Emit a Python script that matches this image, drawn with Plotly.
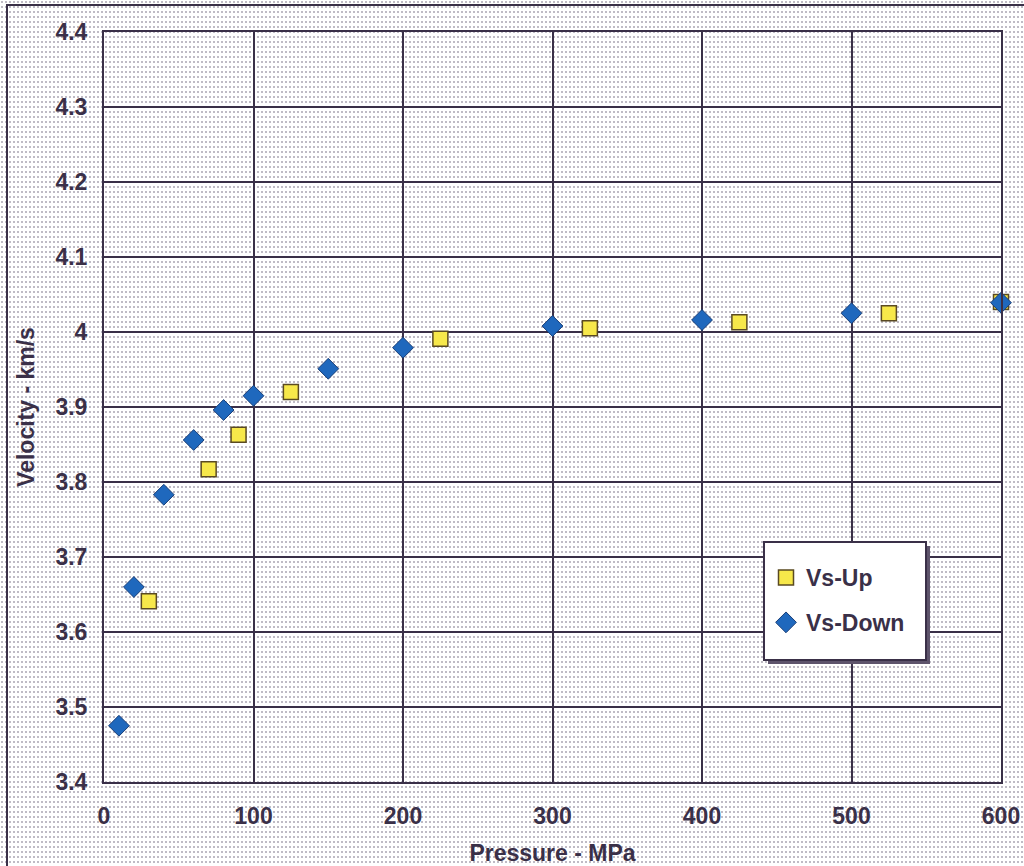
import base64
import plotly.graph_objects as go

# Data
up_pressure = [30, 70, 90, 125, 225, 325, 425, 525, 600]
up_velocity = [3.641, 3.817, 3.863, 3.920, 3.991, 4.005, 4.013, 4.025, 4.040]
down_pressure = [10, 20, 40, 60, 80, 100, 150, 200, 300, 400, 500, 600]
down_velocity = [3.475, 3.660, 3.783, 3.856, 3.896, 3.915, 3.951, 3.979, 4.008, 4.016, 4.025, 4.039]
x_ticks = [0, 100, 200, 300, 400, 500, 600]
y_ticks = [3.4, 3.5, 3.6, 3.7, 3.8, 3.9, 4.0, 4.1, 4.2, 4.3, 4.4]
y_tick_labels = ["3.4", "3.5", "3.6", "3.7", "3.8", "3.9", "4", "4.1", "4.2", "4.3", "4.4"]

ink = "#3a3048"
fnt = "Liberation Sans, Arial, sans-serif"

# layout geometry (pixels)
FW, FH = 1024, 866
ML, MR, MT, MB = 104, 23, 32, 84
PW, PH = FW - ML - MR, FH - MT - MB


def px(xp):
    return (xp - ML) / PW


def py(yp):
    return (FH - MB - yp) / PH


# dotted background pattern
svg = (
    '<svg xmlns="http://www.w3.org/2000/svg" width="1024" height="866">'
    '<defs><pattern id="p" width="4" height="5" patternUnits="userSpaceOnUse">'
    '<rect x="1" y="1" width="2" height="2" fill="#bfbbc5"/></pattern></defs>'
    '<rect width="1024" height="866" fill="#ffffff"/>'
    '<rect width="1024" height="866" fill="url(#p)"/></svg>'
)
bg_src = "data:image/svg+xml;base64," + base64.b64encode(svg.encode()).decode()

fig = go.Figure()
fig.add_trace(go.Scatter(
    x=up_pressure, y=up_velocity, mode="markers", name="Vs-Up", legendgroup="up",
    marker=dict(symbol="square", size=15, color="#f7e84a",
                line=dict(color="#5a4a22", width=1.5)),
    cliponaxis=False,
))
fig.add_trace(go.Scatter(
    x=down_pressure, y=down_velocity, mode="markers", name="Vs-Down", legendgroup="down",
    marker=dict(symbol="diamond", size=16, color="#1f68bd",
                line=dict(color="#1a3f78", width=1)),
    cliponaxis=False,
))

fig.add_layout_image(dict(
    source=bg_src, xref="paper", yref="paper",
    x=px(0), y=py(0), sizex=FW / PW, sizey=FH / PH,
    xanchor="left", yanchor="top", sizing="stretch", layer="below",
))

# legend shadow and box
fig.add_shape(type="rect", xref="paper", yref="paper",
              x0=px(768), x1=px(930), y0=py(664), y1=py(546),
              fillcolor="#5e546c", line=dict(width=0), layer="above")
fig.add_shape(type="rect", xref="paper", yref="paper",
              x0=px(764), x1=px(926), y0=py(660), y1=py(542),
              fillcolor="#ffffff", line=dict(color=ink, width=2), layer="above")
# outer frame
fig.add_shape(type="rect", xref="paper", yref="paper",
              x0=px(7), x1=px(1060), y0=py(900), y1=py(5),
              line=dict(color=ink, width=2), layer="below")

fig.update_layout(
    template="none",
    width=FW, height=FH,
    margin=dict(l=ML, r=MR, t=MT, b=MB, autoexpand=False),
    paper_bgcolor="#ffffff",
    plot_bgcolor="#ffffff",
    font=dict(family=fnt, color=ink),
    showlegend=True,
    legend=dict(
        x=px(766), y=py(556), xanchor="left", yanchor="top",
        bgcolor="rgba(0,0,0,0)", borderwidth=0,
        font=dict(size=23, family=fnt, color=ink, weight="bold"),
        itemsizing="trace", traceorder="grouped", tracegroupgap=12,
    ),
    xaxis=dict(
        range=[0, 600], tickvals=x_ticks, ticks="", automargin=False,
        showgrid=True, gridcolor=ink, gridwidth=2,
        showline=True, linecolor=ink, linewidth=2, mirror=True,
        zeroline=False, ticklabelstandoff=12,
        tickfont=dict(size=23, family=fnt, color=ink, weight="bold"),
        title=dict(text="Pressure - MPa", font=dict(size=23, family=fnt, color=ink, weight="bold"), standoff=18),
    ),
    yaxis=dict(
        range=[3.4, 4.4], tickvals=y_ticks, ticktext=y_tick_labels, ticks="", automargin=False,
        showgrid=True, gridcolor=ink, gridwidth=2,
        showline=True, linecolor=ink, linewidth=2, mirror=True,
        zeroline=False, ticklabelstandoff=10,
        tickfont=dict(size=23, family=fnt, color=ink, weight="bold"),
        title=dict(text="Velocity - km/s", font=dict(size=23, family=fnt, color=ink, weight="bold"), standoff=14),
    ),
)

fig.write_html("out.html")
